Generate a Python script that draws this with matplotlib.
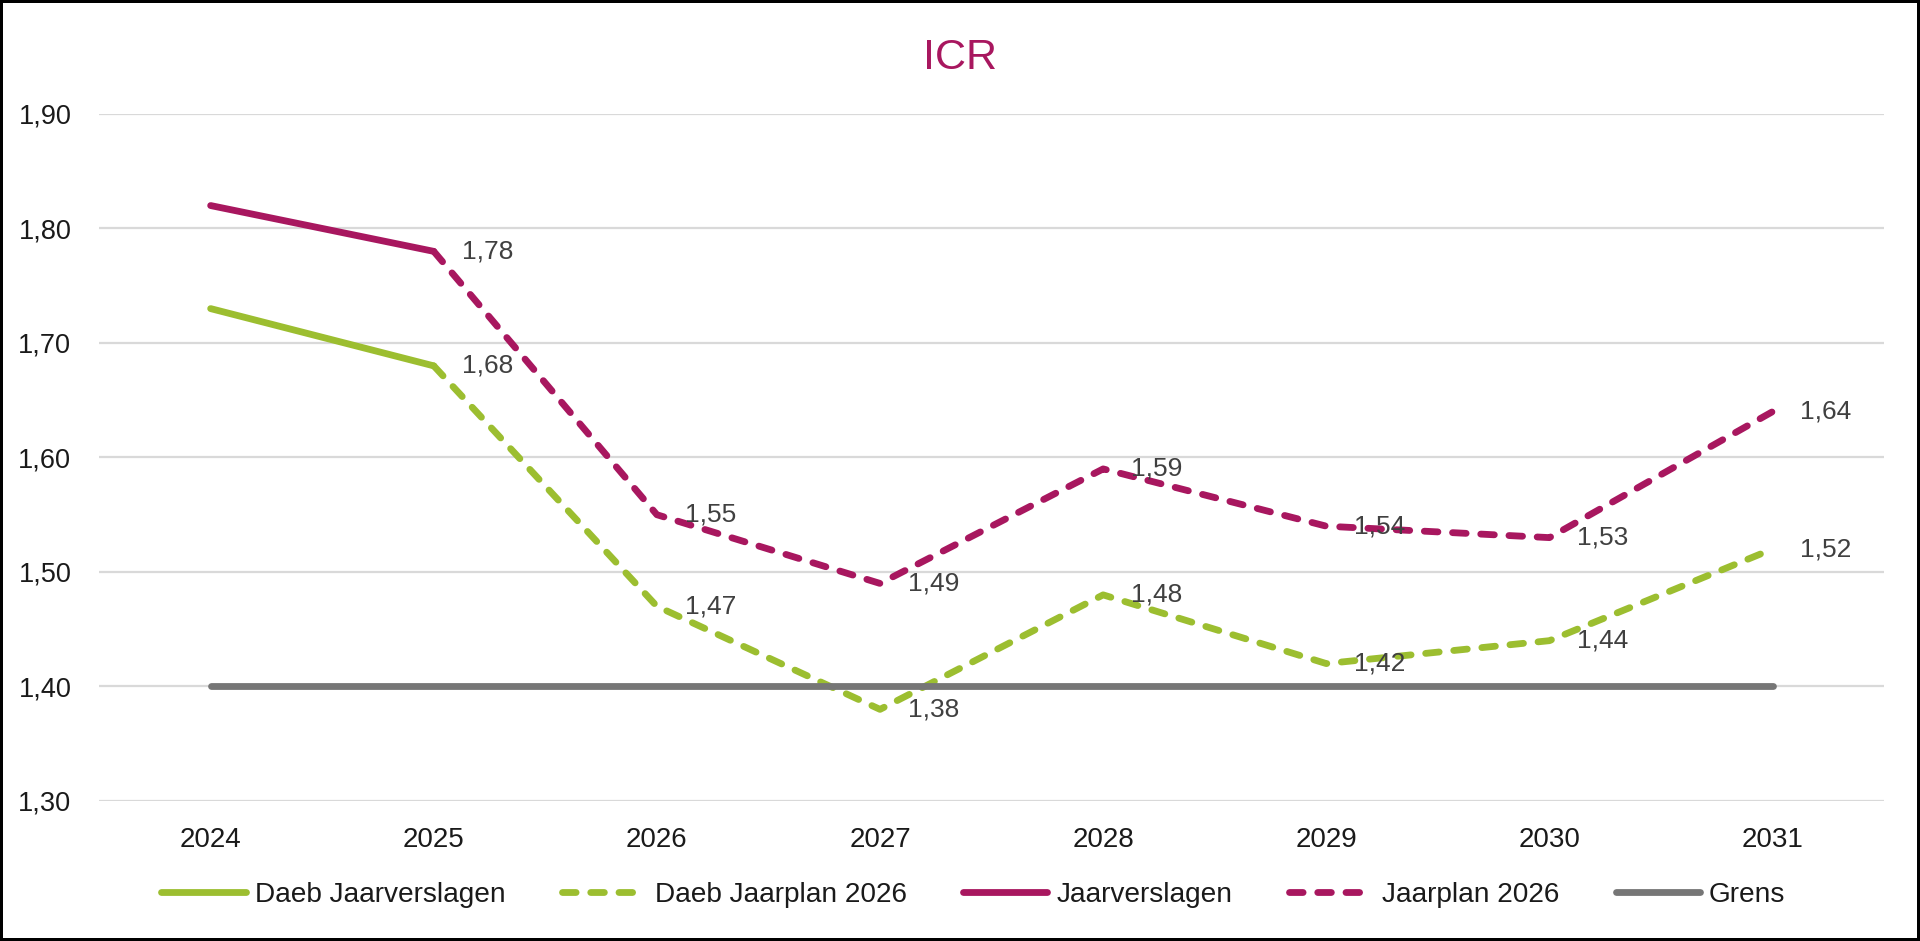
import matplotlib
matplotlib.use("Agg")
import matplotlib.pyplot as plt
import numpy as np

years = ["2024", "2025", "2026", "2027", "2028", "2029", "2030", "2031"]
daeb_jaarverslagen = [1.73, 1.68, None, None, None, None, None, None]
daeb_jaarplan = [None, 1.68, 1.47, 1.38, 1.48, 1.42, 1.44, 1.52]
jaarverslagen = [1.82, 1.78, None, None, None, None, None, None]
jaarplan = [None, 1.78, 1.55, 1.49, 1.59, 1.54, 1.53, 1.64]
grens = [1.40, 1.40, 1.40, 1.40, 1.40, 1.40, 1.40, 1.40]
yticks = [1.30, 1.40, 1.50, 1.60, 1.70, 1.80, 1.90]
title = "ICR"

GREEN = "#9CBE30"
MAGENTA = "#A8175F"
GREY = "#767676"

plt.rcParams['font.family'] = ['Liberation Sans', 'DejaVu Sans']

fig = plt.figure(figsize=(19.2, 9.41), dpi=100, linewidth=4, edgecolor='black', facecolor='white')
ax = fig.add_axes([0.0516, 0.1488, 0.9297, 0.7301])

x = np.arange(len(years))

def arr(v):
    return np.array([np.nan if a is None else a for a in v], dtype=float)

lw = 4.9
dash = (2.0, 2.15)
ax.plot(x, arr(daeb_jaarverslagen), color=GREEN, lw=lw, solid_capstyle='round',
        solid_joinstyle='round', label="Daeb Jaarverslagen", zorder=3)
ax.plot(x, arr(daeb_jaarplan), color=GREEN, lw=lw, linestyle=(0, dash), dash_capstyle='round',
        dash_joinstyle='round', label="Daeb Jaarplan 2026", zorder=3)
ax.plot(x, arr(jaarverslagen), color=MAGENTA, lw=lw, solid_capstyle='round',
        solid_joinstyle='round', label="Jaarverslagen", zorder=3)
ax.plot(x, arr(jaarplan), color=MAGENTA, lw=lw, linestyle=(0, dash), dash_capstyle='round',
        dash_joinstyle='round', label="Jaarplan 2026", zorder=3)
ax.plot(x, arr(grens), color=GREY, lw=lw, solid_capstyle='round', label="Grens", zorder=3)

for series in (daeb_jaarplan, jaarplan):
    for xi, v in zip(x, series):
        if v is None:
            continue
        ax.annotate(f"{v:.2f}".replace('.', ','), (xi, v), xytext=(20, 0),
                    textcoords='offset points', ha='left', va='center',
                    fontsize=19, color='#404040', zorder=5)

ax.set_xlim(-0.5, len(years) - 0.5)
ax.set_ylim(1.30, 1.90)
ax.set_yticks(yticks)
ax.set_yticklabels([f"{t:.2f}".replace('.', ',') for t in yticks])
ax.set_xticks(x)
ax.set_xticklabels(years)
ax.tick_params(axis='y', length=0, pad=20, labelsize=19.5, labelcolor='#1a1a1a')
ax.tick_params(axis='x', length=0, pad=19, labelsize=20, labelcolor='#1a1a1a')
ax.grid(axis='y', color='#D9D9D9', lw=1.6, zorder=0)
ax.set_axisbelow(True)
for s in ax.spines.values():
    s.set_visible(False)

fig.text(0.5, 1 - 58 / 941, title, ha='center', va='center', fontsize=31, color=MAGENTA)

leg = fig.legend(loc='center', bbox_to_anchor=(0.507, 1 - 895 / 941), ncol=5, frameon=False,
                 fontsize=20.2, handlelength=3.0, handletextpad=0.33, columnspacing=2.0)
for t in leg.get_texts():
    t.set_color('#1a1a1a')

fig.savefig("out.png", dpi=100, facecolor='white', edgecolor='black')
